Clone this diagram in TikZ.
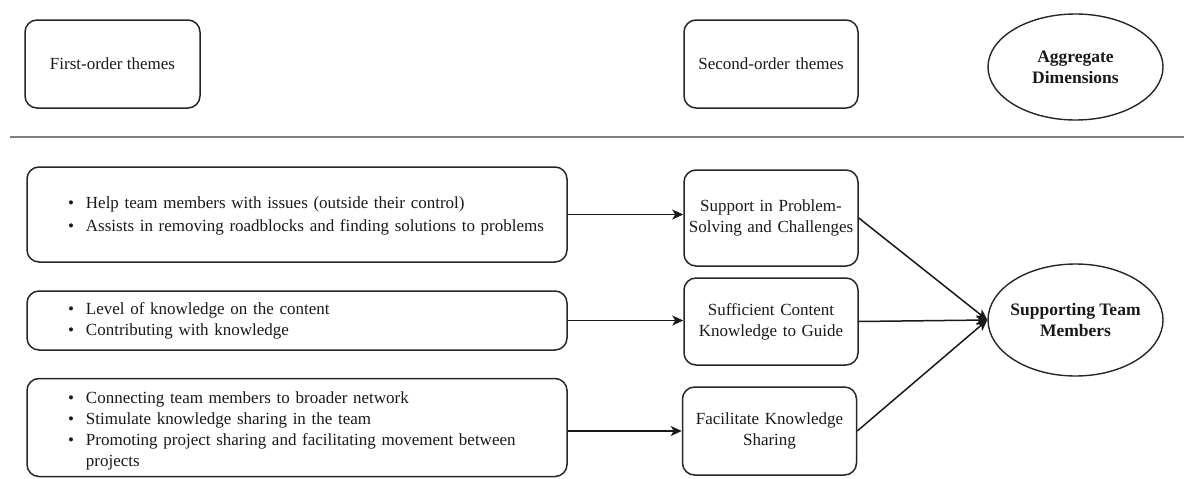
\documentclass[tikz,border=0pt]{standalone}
\usepackage{fontspec}
\setmainfont{Liberation Serif}
\usetikzlibrary{shapes.geometric,arrows.meta}
\begin{document}
\begin{tikzpicture}[x=1pt,y=-1pt,
  every node/.style={font=\fontsize{17}{21}\selectfont, text=black!90},
  theme/.style={draw=black!85, line width=1.5pt, rounded corners=12pt,
    inner sep=0pt, align=center},
  listbox/.style={theme, minimum width=540pt, text width=458pt,
    inner xsep=41pt, align=left},
  secondbox/.style={theme, minimum width=174pt, text width=174pt},
  dimension/.style={ellipse, draw=black!85, line width=1.4pt, inner xsep=-6pt,
    inner ysep=0pt, minimum width=175pt, align=center,
    font=\fontsize{17.5}{21}\selectfont\bfseries},
  link/.style={-{Stealth[length=11pt,width=10pt,inset=3pt]}, line width=1.5pt, draw=black!90},
  rule/.style={draw=black!50, line width=2.5pt}
]
\useasboundingbox (0,0) rectangle (1184,479);

\newcommand{\blt}{\textbullet}
% lower a list by #1 without changing the box it occupies
\newcommand{\lowerby}[2]{\raisebox{-#1}[\height][\depth]{#2}}

% column headers
\node[theme, minimum width=175pt, minimum height=88pt] (h1) at (112.5,64) {First-order themes};
\node[secondbox, minimum height=88pt] (h2) at (771,64) {Second-order themes};
\node[dimension, minimum height=106pt] (h3) at (1075.5,67) {Aggregate\\Dimensions};

% separator
\coordinate (r1) at (10,137);
\coordinate (r2) at (1184,137);
\draw[rule] (r1) -- (r2);

% first-order themes
\node[listbox, minimum height=95pt] (A) at (297,214.5) {\lowerby{1pt}{%
  \begin{tabular}{@{}l@{\hspace{12pt}}l@{}}
  \blt & Help team members with issues (outside their control)\\[2pt]
  \blt & Assists in removing roadblocks and finding solutions to problems
  \end{tabular}}};
\node[listbox, minimum height=59pt] (B) at (297,320.5) {%
  \begin{tabular}{@{}l@{\hspace{12pt}}l@{}}
  \blt & Level of knowledge on the content\\
  \blt & Contributing with knowledge
  \end{tabular}};
\node[listbox, minimum height=98pt] (C) at (297,427.5) {\lowerby{3.5pt}{%
  \begin{tabular}{@{}l@{\hspace{12pt}}l@{}}
  \blt & Connecting team members to broader network\\
  \blt & Stimulate knowledge sharing in the team\\
  \blt & Promoting project sharing and facilitating movement between\\
       & projects
  \end{tabular}}};

% second-order themes
\node[secondbox, minimum height=96pt] (SP) at (771,218) {Support in Problem-\\Solving and Challenges};
\node[secondbox, minimum height=87pt] (SC) at (771,321.5) {Sufficient Content\\Knowledge to Guide};
\node[secondbox, minimum height=88pt] (FK) at (769.5,431) {Facilitate Knowledge\\Sharing};

% aggregate dimension
\node[dimension, minimum height=112pt] (STM) at (1075.5,320) {Supporting Team\\Members};

% connectors
\draw[link] (A.east) -- (A.east -| SP.west);
\draw[link] (B.east) -- (B.east -| SC.west);
\draw[link] (C.east |- FK.west) -- (FK.west);
\draw[link] (SP.east) -- (STM.west);
\draw[link] (SC.east) -- (STM.west);
\draw[link] (FK.east) -- (STM.west);
\end{tikzpicture}
\end{document}
